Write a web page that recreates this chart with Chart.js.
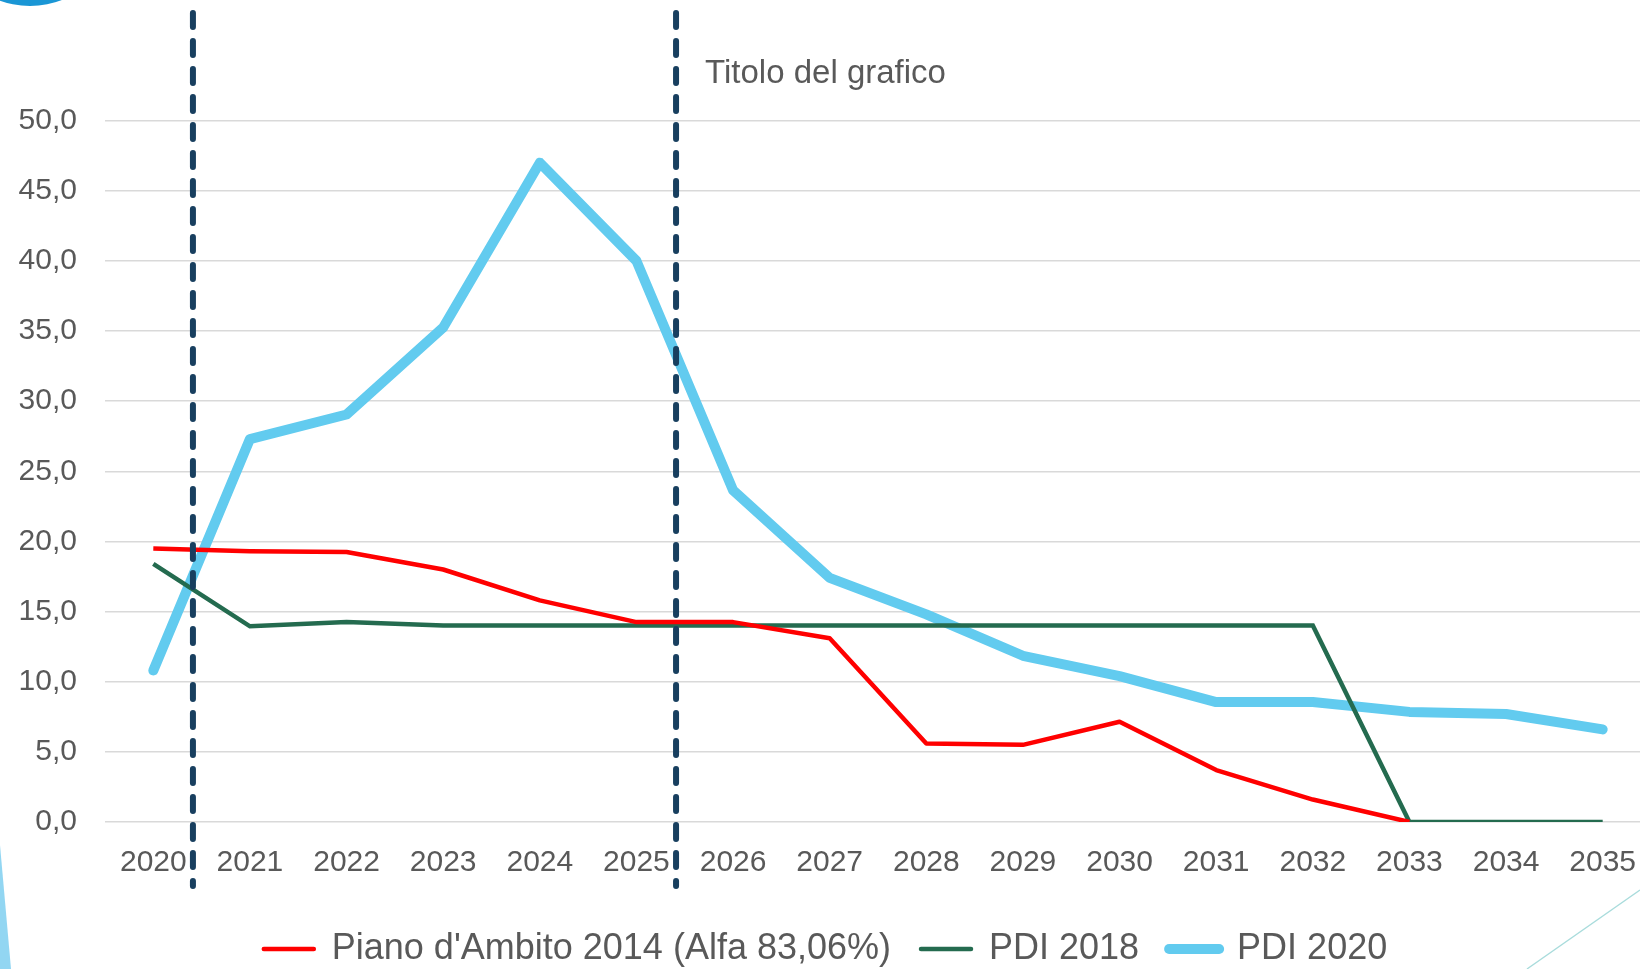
<!DOCTYPE html>
<html lang="it">
<head>
<meta charset="utf-8">
<title>Titolo del grafico</title>
<script src="https://cdn.jsdelivr.net/npm/chart.js@4/dist/chart.umd.min.js"></script>
<style>
  html,body{ margin:0; padding:0; background:#fff; overflow:hidden; }
  #wrap{ position:relative; width:1640px; height:969px; overflow:hidden; }
  #box{ position:absolute; left:0; top:0; width:1674px; height:977px; }
</style>
</head>
<body>
<div id="wrap"><div id="box"><canvas id="chart"></canvas></div></div>
<script>
// ── DATI ────────────────────────────────────────────────
const anni = ['2020','2021','2022','2023','2024','2025','2026','2027','2028','2029','2030','2031','2032','2033','2034','2035'];
const pianoAmbito2014 = [19.5, 19.3, 19.25, 18.0, 15.8, 14.25, 14.25, 13.1, 5.6, 5.5, 7.15, 3.7, 1.6, 0.0, null, null];
const pdi2018 = [18.4, 13.95, 14.25, 14.0, 14.0, 14.0, 14.0, 14.0, 14.0, 14.0, 14.0, 14.0, 14.0, 0.0, 0.0, 0.0];
const pdi2020 = [10.8, 27.3, 29.05, 35.25, 47.0, 40.0, 23.65, 17.4, 14.8, 11.85, 10.4, 8.55, 8.55, 7.85, 7.7, 6.6];
const etichette = ["Piano d'Ambito 2014 (Alfa 83,06%)", 'PDI 2018', 'PDI 2020'];
const titolo = 'Titolo del grafico';

// ── STILE ───────────────────────────────────────────────
const FONT = '"Liberation Sans", Arial, sans-serif';
const GRIGIO = '#595959';

function fmt(v){ return Number(v).toFixed(1).replace('.', ','); }

// linee verticali tratteggiate (tra 2020-2021 e 2025-2026)
const lineeTratteggiate = {
  id:'lineeTratteggiate',
  afterDatasetsDraw(chart){
    const x = chart.scales.x, ctx = chart.ctx;
    const passo = x.getPixelForValue(1) - x.getPixelForValue(0);
    [0, 5].forEach(i=>{
      const px = x.getPixelForValue(i) + passo*0.41;
      ctx.save();
      ctx.strokeStyle = '#183f5f';
      ctx.lineWidth = 6;
      ctx.lineCap = 'round';
      ctx.setLineDash([14, 14]);
      ctx.beginPath();
      ctx.moveTo(px, 13);
      ctx.lineTo(px, 886);
      ctx.stroke();
      ctx.restore();
    });
  }
};

// decorazioni della slide
const decorazioni = {
  id:'decorazioni',
  beforeDraw(chart){
    const ctx = chart.ctx;
    ctx.save();
    ctx.fillStyle = '#1a96d5';
    ctx.beginPath(); ctx.arc(30, -82, 88, 0, Math.PI*2); ctx.fill();
    ctx.fillStyle = 'rgba(110,200,238,0.75)';
    ctx.beginPath(); ctx.moveTo(0, 845); ctx.lineTo(11, 969); ctx.lineTo(0, 969); ctx.closePath(); ctx.fill();
    ctx.strokeStyle = '#a9dcdc'; ctx.lineWidth = 1.5;
    ctx.beginPath(); ctx.moveTo(1527, 969); ctx.lineTo(1640, 890); ctx.stroke();
    ctx.restore();
  }
};

// ── GRAFICO ─────────────────────────────────────────────
new Chart(document.getElementById('chart'), {
  type:'line',
  data:{
    labels: anni,
    datasets:[
      { label:etichette[0], data:pianoAmbito2014, borderColor:'#ff0000', backgroundColor:'#ff0000', borderWidth:4.5, borderJoinStyle:'round' },
      { label:etichette[1], data:pdi2018, borderColor:'#246b4f', backgroundColor:'#246b4f', borderWidth:4.5, borderJoinStyle:'miter' },
      { label:etichette[2], data:pdi2020, borderColor:'#62cbef', backgroundColor:'#62cbef', borderWidth:10, borderCapStyle:'round', borderJoinStyle:'round' },
    ]
  },
  options:{
    responsive:true,
    maintainAspectRatio:false,
    animation:false,
    layout:{ padding:{ left:0, right:23, top:0, bottom:0 } },
    elements:{ point:{ radius:0, hoverRadius:0 }, line:{ tension:0 } },
    plugins:{
      title:{
        display:true, text:titolo, color:GRIGIO,
        font:{ family:FONT, size:33, weight:'normal' },
        padding:{ top:54, bottom:27 }
      },
      legend:{
        position:'bottom',
        labels:{
          color:GRIGIO,
          font:{ family:FONT, size:36 },
          usePointStyle:true,
          pointStyleWidth:50,
          padding:30,
          generateLabels: chart => chart.data.datasets.map((ds,i)=>({
            text: ds.label, datasetIndex:i, hidden:false,
            strokeStyle: ds.borderColor, fillStyle: ds.borderColor,
            lineWidth: ds.borderWidth, lineCap:'round', pointStyle:'line', fontColor:GRIGIO
          }))
        }
      },
      tooltip:{ enabled:false }
    },
    scales:{
      x:{
        offset:true,
        grid:{ display:false },
        border:{ display:false },
        ticks:{ color:GRIGIO, font:{ family:FONT, size:30 }, padding:15, maxRotation:0, autoSkip:false },
        afterFit: s => { s.height = 79; }
      },
      y:{
        min:0, max:50,
        grid:{ color:'#d9d9d9', lineWidth:1.5, drawTicks:false },
        border:{ display:false },
        ticks:{ stepSize:5, color:GRIGIO, font:{ family:FONT, size:30 }, padding:28, callback: v => fmt(v) },
        afterFit: s => { s.width = 105; }
      }
    }
  },
  plugins:[decorazioni, lineeTratteggiate]
});
</script>
</body>
</html>
